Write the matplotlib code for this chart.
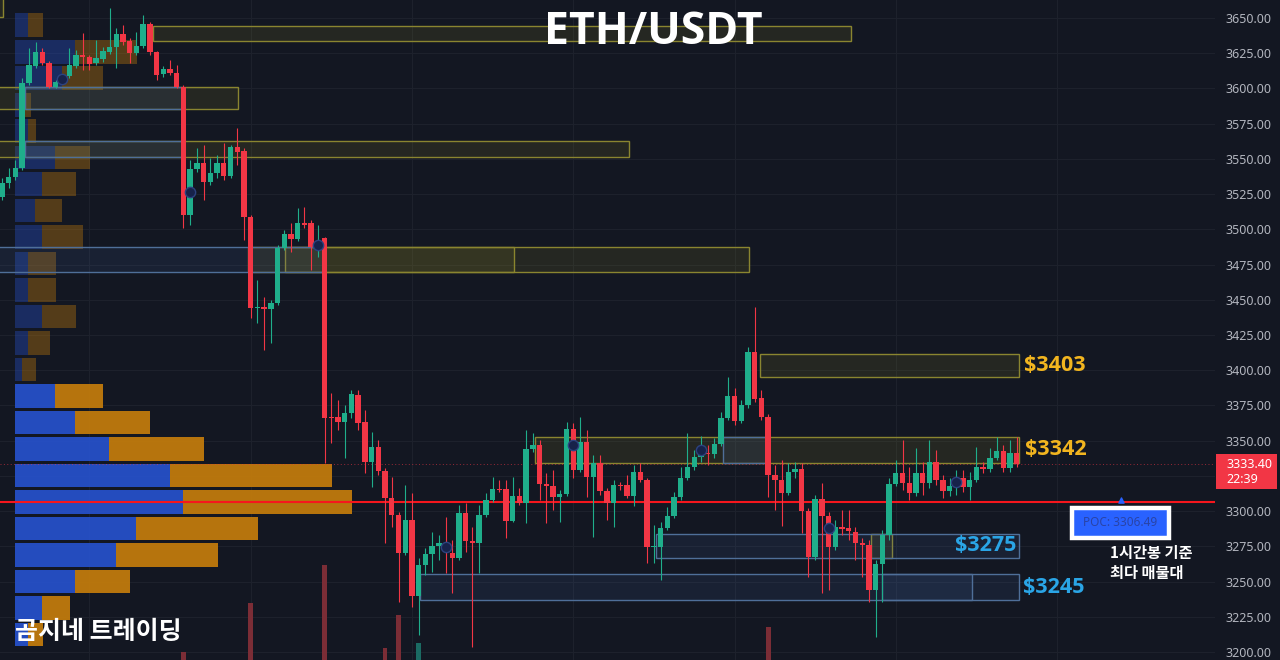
import matplotlib
matplotlib.use("Agg")
import matplotlib.pyplot as plt
from matplotlib.patches import Rectangle
from matplotlib.transforms import blended_transform_factory
import numpy as np

# ---------------- data ----------------
opens = [3523.0, 3532.9, 3537.2, 3543.6, 3603.9, 3616.0, 3625.9, 3618.1, 3601.0, 3606.0,
         3608.9, 3616.0, 3623.8, 3622.3, 3618.1, 3620.9, 3625.9, 3629.4, 3638.7, 3633.7,
         3625.2, 3630.1, 3645.8, 3625.9, 3610.3, 3613.8, 3611.0, 3601.0, 3510.2, 3542.8,
         3547.1, 3533.6, 3540.0, 3547.1, 3537.9, 3558.5, 3555.6, 3508.8, 3444.2, 3444.9,
         3443.5, 3447.7, 3486.8, 3496.7, 3493.2, 3504.5, 3504.5, 3489.0, 3493.9, 3366.8,
         3366.8, 3363.3, 3369.7, 3382.4, 3363.3, 3334.9, 3345.5, 3328.5, 3309.3, 3297.3,
         3270.3, 3293.7, 3239.8, 3261.8, 3269.6, 3275.3, 3276.0, 3270.3, 3266.7, 3298.7,
         3278.8, 3277.4, 3297.3, 3307.9, 3315.7, 3315.7, 3293.0, 3310.7, 3305.8, 3344.1,
         3346.9, 3319.3, 3317.8, 3310.0, 3312.2, 3358.3, 3329.2, 3349.1, 3324.2, 3334.2,
         3314.3, 3305.8, 3318.6, 3318.6, 3310.7, 3327.8, 3322.1, 3274.6, 3274.6, 3288.0,
         3296.5, 3310.0, 3323.5, 3331.3, 3338.4, 3341.3, 3340.5, 3347.7, 3366.1, 3381.7,
         3364.0, 3375.3, 3413.0, 3380.3, 3366.8, 3325.6, 3322.1, 3312.9, 3327.8, 3329.9,
         3300.1, 3267.4, 3308.6, 3296.5, 3274.6, 3288.7, 3288.0, 3285.2, 3277.4, 3276.0,
         3244.0, 3262.5, 3283.1, 3319.3, 3327.1, 3320.0, 3312.9, 3327.1, 3320.0, 3334.9,
         3322.1, 3314.3, 3317.8, 3323.5, 3317.1, 3322.1, 3331.3, 3329.9, 3337.7, 3342.7,
         3330.6, 3341.3]
highs = [3536.5, 3543.6, 3549.2, 3607.4, 3628.7, 3633.0, 3628.7, 3619.5, 3606.0, 3608.0,
         3628.7, 3627.3, 3639.4, 3623.8, 3634.4, 3629.4, 3657.1, 3642.9, 3645.1, 3635.8,
         3640.1, 3652.2, 3647.2, 3626.6, 3616.0, 3620.2, 3616.7, 3602.5, 3549.2, 3557.7,
         3559.9, 3550.7, 3552.8, 3561.3, 3559.9, 3571.9, 3557.7, 3510.2, 3464.0, 3452.0,
         3449.9, 3488.9, 3499.5, 3504.5, 3515.2, 3515.9, 3506.6, 3503.1, 3494.6, 3383.9,
         3378.9, 3375.3, 3386.0, 3386.0, 3371.8, 3356.2, 3350.5, 3330.6, 3324.2, 3299.4,
         3318.6, 3312.9, 3266.7, 3273.8, 3285.2, 3283.1, 3295.8, 3279.5, 3304.4, 3305.8,
         3288.7, 3304.4, 3312.9, 3324.2, 3322.1, 3322.1, 3324.2, 3316.4, 3357.6, 3355.5,
         3350.5, 3327.1, 3329.2, 3315.0, 3363.3, 3362.6, 3366.8, 3357.6, 3339.8, 3339.8,
         3316.4, 3322.1, 3321.0, 3325.7, 3332.7, 3334.2, 3323.5, 3290.0, 3292.3, 3302.9,
         3313.6, 3331.3, 3355.5, 3343.4, 3353.3, 3346.9, 3351.9, 3370.4, 3395.2, 3387.4,
         3378.9, 3416.5, 3444.9, 3386.0, 3368.9, 3332.7, 3336.3, 3334.2, 3334.9, 3334.2,
         3302.2, 3311.5, 3320.0, 3299.4, 3293.7, 3300.8, 3300.8, 3288.7, 3280.9, 3279.5,
         3265.3, 3286.6, 3323.5, 3336.3, 3350.5, 3331.3, 3344.8, 3334.9, 3350.5, 3343.4,
         3325.7, 3323.5, 3329.2, 3329.2, 3327.8, 3345.5, 3334.9, 3344.8, 3352.6, 3346.9,
         3350.5, 3352.6]
lows = [3520.8, 3529.4, 3535.0, 3542.1, 3602.5, 3614.5, 3616.7, 3600.3, 3600.3, 3604.0,
        3607.4, 3614.5, 3613.1, 3613.1, 3616.7, 3618.8, 3624.5, 3614.5, 3630.9, 3618.1,
        3623.8, 3628.7, 3623.8, 3606.0, 3608.1, 3609.6, 3600.3, 3501.0, 3503.1, 3540.7,
        3520.8, 3531.5, 3536.5, 3535.0, 3536.5, 3545.7, 3492.5, 3437.1, 3433.5, 3414.4,
        3419.3, 3446.3, 3485.3, 3483.9, 3491.7, 3501.0, 3471.2, 3480.4, 3334.2, 3348.4,
        3357.6, 3337.7, 3366.1, 3357.6, 3327.1, 3317.1, 3325.7, 3277.4, 3288.7, 3235.5,
        3268.9, 3232.0, 3212.1, 3254.7, 3256.8, 3265.3, 3256.1, 3241.9, 3265.3, 3271.0,
        3203.6, 3256.1, 3295.8, 3306.5, 3313.6, 3280.9, 3292.3, 3304.4, 3291.6, 3342.0,
        3307.9, 3291.6, 3300.8, 3292.3, 3310.7, 3323.5, 3327.8, 3310.0, 3281.6, 3311.5,
        3293.7, 3288.7, 3315.0, 3309.3, 3303.7, 3320.7, 3263.2, 3263.2, 3251.1, 3286.6,
        3295.1, 3307.9, 3322.1, 3329.2, 3334.9, 3332.7, 3337.7, 3346.2, 3364.7, 3361.1,
        3362.6, 3373.2, 3377.4, 3364.7, 3310.0, 3300.8, 3289.5, 3311.5, 3323.5, 3284.5,
        3253.2, 3265.3, 3241.9, 3244.0, 3272.4, 3283.1, 3279.5, 3265.3, 3253.2, 3235.5,
        3210.7, 3235.5, 3279.5, 3317.8, 3315.0, 3307.9, 3310.7, 3311.5, 3316.4, 3318.6,
        3309.3, 3310.7, 3311.5, 3313.6, 3307.9, 3320.7, 3327.1, 3327.8, 3336.3, 3327.8,
        3327.8, 3331.3]
closes = [3532.9, 3537.2, 3543.6, 3603.9, 3616.7, 3625.9, 3618.1, 3601.0, 3604.6, 3606.7,
          3616.7, 3623.8, 3622.3, 3617.4, 3621.6, 3626.6, 3629.4, 3638.7, 3633.0, 3625.2,
          3630.1, 3645.8, 3625.9, 3609.6, 3613.8, 3611.0, 3601.0, 3510.2, 3542.8, 3547.1,
          3533.6, 3540.0, 3547.1, 3537.9, 3558.5, 3554.9, 3508.8, 3444.2, 3444.9, 3443.5,
          3447.7, 3486.8, 3496.7, 3493.2, 3504.5, 3503.1, 3487.5, 3490.0, 3366.1, 3366.1,
          3363.3, 3369.7, 3383.1, 3362.6, 3334.9, 3345.5, 3328.5, 3309.3, 3297.3, 3270.3,
          3293.7, 3239.8, 3261.8, 3269.6, 3275.3, 3277.4, 3271.0, 3266.7, 3298.7, 3278.8,
          3277.4, 3297.3, 3307.9, 3315.7, 3315.0, 3293.0, 3310.7, 3305.8, 3344.1, 3346.9,
          3319.3, 3317.8, 3310.0, 3312.2, 3358.3, 3329.2, 3349.1, 3324.2, 3334.2, 3314.3,
          3305.8, 3318.6, 3318.0, 3310.7, 3327.8, 3322.1, 3274.6, 3275.5, 3288.0, 3296.5,
          3310.0, 3323.5, 3331.3, 3338.4, 3340.5, 3340.5, 3347.7, 3366.1, 3381.7, 3364.0,
          3375.3, 3413.0, 3379.6, 3366.8, 3325.6, 3322.1, 3312.9, 3327.8, 3329.9, 3300.1,
          3267.4, 3308.6, 3296.5, 3274.6, 3288.7, 3287.3, 3285.9, 3277.4, 3276.0, 3244.0,
          3262.5, 3283.1, 3319.3, 3327.1, 3320.0, 3312.9, 3327.1, 3320.0, 3334.9, 3322.1,
          3314.3, 3317.8, 3320.0, 3317.1, 3322.1, 3331.3, 3329.9, 3337.7, 3342.7, 3330.6,
          3341.3, 3333.4]

# indicator circles
marker_idx = [9, 28, 47, 66, 85, 104, 123, 142]
marker_price = [3606.7, 3526.5, 3489.1, 3274.3, 3346.9, 3343.4, 3288.0, 3320.7]

# visible tops of volume bars
vol_idx = [27, 37, 48, 57, 59, 62, 114]
vol_val = [12, 86, 144, 18, 68, 26, 50]
vol_up = [False, False, False, False, False, True, False]

# volume profile (row centre price, buy, sell)
vp_price = [3644.9, 3626.1, 3607.3, 3588.5, 3569.7, 3550.9, 3532.1, 3513.3, 3494.5, 3475.7,
            3456.9, 3438.1, 3419.3, 3400.5, 3381.7, 3362.9, 3344.1, 3325.3, 3306.5, 3287.7,
            3268.9, 3250.1, 3231.3, 3212.5]
vp_buy = [13, 60, 47, 10, 13, 40, 27, 20, 27, 13, 13, 27, 13, 7, 40, 60, 94, 155, 168, 121,
          101, 60, 27, 13]
vp_sell = [15, 62, 41, 6, 8, 35, 34, 27, 41, 28, 28, 34, 22, 14, 48, 75, 95, 162, 169, 122,
           102, 55, 28, 15]
va_high, va_low = 3391.0, 3203.0
poc = 3306.49
last_price = 3333.40
countdown = "22:39"

# zones
yellow_left = [-1.0, 22.5, -1.0, -1.0, 36.6, 42.1, 112.8, 79.3, 129.3]
yellow_right = [0.2, 126.3, 35.1, 93.3, 76.2, 111.2, 151.4, 151.4, 132.5]
yellow_low = [3651.0, 3633.7, 3585.4, 3551.3, 3469.7, 3469.7, 3395.2, 3334.2, 3266.7]
yellow_high = [3672.0, 3644.3, 3601.0, 3562.7, 3487.5, 3487.5, 3411.5, 3352.6, 3283.8]
blue_left = [3.4, 3.4, -1.0, 107.3, 97.3, 62.2, 130.9]
blue_right = [26.8, 26.8, 47.8, 114.0, 151.4, 151.4, 144.3]
blue_low = [3585.4, 3551.3, 3469.7, 3334.2, 3266.7, 3236.9, 3236.9]
blue_high = [3601.0, 3562.7, 3487.5, 3352.6, 3283.8, 3255.4, 3255.4]

level_text = ["$3403", "$3342", "$3275", "$3245"]
level_price = [3403.3, 3343.4, 3275.3, 3246.1]

price_ticks = [3200, 3225, 3250, 3275, 3300, 3350, 3375, 3400, 3425, 3450, 3475,
               3500, 3525, 3550, 3575, 3600, 3625, 3650]
grid_prices = list(range(3200, 3651, 25))
day_lines = [13, 37, 61, 85, 109, 133, 157]

# ---------------- style ----------------
BG = "#131722"
UP = "#1fae8b"
DN = "#f23645"
GRID = "#1d212c"
YEL_T = "#f2b51f"
BLU_T = "#2aa5e6"
BOLD_FONT = ["Open Sans", "DejaVu Sans"]
KR_FONT = ["Noto Sans CJK KR", "DejaVu Sans"]

fig = plt.figure(figsize=(12.8, 6.6), dpi=100, facecolor=BG)
rect = [0, 0, 1215 / 1280, 1]
XL = (-0.3, 180.5)
YL = (3194.3, 3662.8)

ax_bg = fig.add_axes(rect, zorder=0)
ax_bg.set_facecolor(BG)
ax_bg.set_xlim(*XL)
ax_bg.set_ylim(*YL)
for s in ax_bg.spines.values():
    s.set_visible(False)
ax_bg.yaxis.tick_right()
ax_bg.set_yticks(price_ticks)
ax_bg.set_yticklabels([f"{v:.2f}" for v in price_ticks], fontfamily="Noto Sans")
ax_bg.tick_params(axis="y", length=0, pad=7.5, labelcolor="#b2b5be", labelsize=9)
ax_bg.set_xticks(day_lines)
ax_bg.tick_params(axis="x", length=0, labelbottom=False)
ax_bg.grid(True, axis="x", color=GRID, lw=0.8)
for gp in grid_prices:
    ax_bg.axhline(gp, color=GRID, lw=0.8)

# volume profile
ax_vp = fig.add_axes(rect, zorder=1, sharey=ax_bg)
ax_vp.patch.set_visible(False)
ax_vp.axis("off")
ax_vp.set_xlim(-15, 1200)
row_h = 16.8
for p, b, s in zip(vp_price, vp_buy, vp_sell):
    inside = va_low <= p <= va_high
    a = 0.95 if inside else 0.38
    ax_vp.barh(p, b, left=0, height=row_h, color="#2650c8", alpha=a, lw=0)
    ax_vp.barh(p, s, left=b, height=row_h, color="#c07a0c", alpha=a, lw=0)

# main axes
ax = fig.add_axes(rect, zorder=2, sharex=ax_bg, sharey=ax_bg)
ax.patch.set_visible(False)
ax.axis("off")
ax.set_xlim(*XL)
ax.set_ylim(*YL)

for l, r, lo, hi in zip(yellow_left, yellow_right, yellow_low, yellow_high):
    ax.add_patch(Rectangle((l, lo), r - l, hi - lo, fc=(0.55, 0.53, 0.15, 0.15),
                           ec="#8a8530", lw=1.0, zorder=2))
for l, r, lo, hi in zip(blue_left, blue_right, blue_low, blue_high):
    ax.add_patch(Rectangle((l, lo), r - l, hi - lo, fc=(0.28, 0.42, 0.68, 0.13),
                           ec="#4f6f99", lw=1.0, zorder=2.1))

ax.axhline(poc, color="#f5161d", lw=1.5, zorder=3)
ax.axhline(last_price, color="#f23645", lw=0.7, ls=(0, (1, 2.5)), alpha=0.6, zorder=3)

idx = np.arange(len(opens))
o = np.array(opens); c = np.array(closes)
h = np.array(highs); lo_ = np.array(lows)
cols = [UP if cc >= oo else DN for oo, cc in zip(o, c)]
ax.vlines(idx, lo_, h, colors=cols, lw=0.8, zorder=4)
bottoms = np.minimum(o, c)
heights = np.maximum(np.abs(c - o), 0.8)
ax.bar(idx, heights, bottom=bottoms, width=0.8, color=cols, lw=0, zorder=5)

ax.scatter(marker_idx, marker_price, s=55, facecolor="#17224a", edgecolor="#2c4280",
           lw=1.0, zorder=6)

# zone level labels
lbl_kw = dict(fontsize=15.5, weight="bold", family=BOLD_FONT, va="center", zorder=7,
              clip_on=False)
ax.text(152.1, level_price[0], level_text[0], color=YEL_T, ha="left", **lbl_kw)
ax.text(152.2, level_price[1], level_text[1], color=YEL_T, ha="left", **lbl_kw)
ax.text(150.9, level_price[2], level_text[2], color=BLU_T, ha="right", **lbl_kw)
ax.text(151.9, level_price[3], level_text[3], color=BLU_T, ha="left", **lbl_kw)

# POC label
ax.add_patch(Rectangle((159.2, 3281.0), 14.5, 21.2, fc="#2962ff", ec="white", lw=3.2, zorder=8))
ax.text(166.45, 3291.6, f"POC: {poc:.2f}", color="#2a44a6", fontsize=8.5, family="Noto Sans",
        ha="center", va="center", zorder=9)
ax.scatter([166.5], [3307.6], s=14, color="#2962ff", marker="^", zorder=8)
ax.text(164.9, 3270.3, "1시간봉 기준", color="white", fontsize=11, weight="bold",
        family=KR_FONT, ha="left", va="center", zorder=9)
ax.text(164.9, 3256.3, "최다 매물대", color="white", fontsize=11, weight="bold",
        family=KR_FONT, ha="left", va="center", zorder=9)

# current price label on the scale
tr = blended_transform_factory(ax.transAxes, ax.transData)
ax.add_patch(Rectangle((1.0008, 3315.5), 0.0502, 24.8, transform=tr, fc=DN, ec="none",
                       clip_on=False, zorder=9))
ax.text(1.0091, 3332.8, f"{last_price:.2f}", transform=tr, color="white", fontsize=9,
        family="Noto Sans", ha="left", va="center", clip_on=False, zorder=10)
ax.text(1.0091, 3322.1, countdown, transform=tr, color="white", fontsize=9,
        family="Noto Sans", ha="left", va="center", clip_on=False, zorder=10)

# volume bars
ax_vol = fig.add_axes(rect, zorder=3, sharex=ax_bg)
ax_vol.patch.set_visible(False)
ax_vol.axis("off")
ax_vol.set_ylim(0, 1000)
ax_vol.bar(vol_idx, vol_val, width=0.72,
           color=["#1b6b63" if u else "#7b2d36" for u in vol_up], lw=0)
ax_vol.set_xlim(*XL)

fig.text(653 / 1280, 1 - 33 / 660, "ETH/USDT", color="white", fontsize=32, weight="bold",
         family=BOLD_FONT, ha="center", va="center")
fig.text(15 / 1280, 1 - 632 / 660, "곰지네 트레이딩", color="white", fontsize=18, weight="bold",
         family=KR_FONT, ha="left", va="center", zorder=20)

fig.savefig("out.png", dpi=100, facecolor=BG)
